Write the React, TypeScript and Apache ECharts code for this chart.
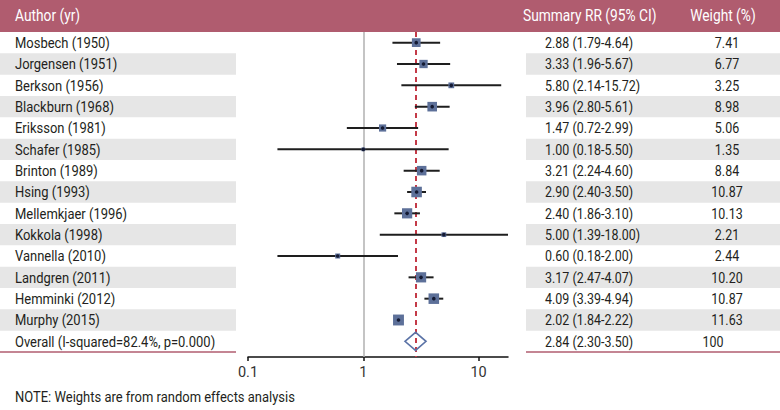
import React, { useEffect, useRef } from 'react';
import * as echarts from 'echarts';

// ---- data ----
const authors = [
  'Mosbech (1950)', 'Jorgensen (1951)', 'Berkson (1956)', 'Blackburn (1968)', 'Eriksson (1981)',
  'Schafer (1985)', 'Brinton (1989)', 'Hsing (1993)', 'Mellemkjaer (1996)', 'Kokkola (1998)',
  'Vannella (2010)', 'Landgren (2011)', 'Hemminki (2012)', 'Murphy (2015)',
];
const rr = [2.88, 3.33, 5.80, 3.96, 1.47, 1.00, 3.21, 2.90, 2.40, 5.00, 0.60, 3.17, 4.09, 2.02];
const lower = [1.79, 1.96, 2.14, 2.80, 0.72, 0.18, 2.24, 2.40, 1.86, 1.39, 0.18, 2.47, 3.39, 1.84];
const upper = [4.64, 5.67, 15.72, 5.61, 2.99, 5.50, 4.60, 3.50, 3.10, 18.00, 2.00, 4.07, 4.94, 2.22];
const weights = [7.41, 6.77, 3.25, 8.98, 5.06, 1.35, 8.84, 10.87, 10.13, 2.21, 2.44, 10.20, 10.87, 11.63];
const overallLabel = 'Overall (I-squared=82.4%, p=0.000)';
const overallRR = 2.84;
const overallLower = 2.30;
const overallUpper = 3.50;
const overallWeight = '100';
const headers = ['Author (yr)', 'Summary RR (95% CI)', 'Weight (%)'];
const xTicks = [0.1, 1, 10];
const note = 'NOTE: Weights are from random effects analysis';

const FONT = 'Roboto';
const TEXT = '#231f20';
const ROSE = '#b05c6f';
const STRIPE = '#e6e6e6';
const SX = 0.86;
const SX_NAME = 0.895;

const rowLabels = [...authors, overallLabel];
const summaryText = [
  ...rr.map((v, i) => `${v.toFixed(2)} (${lower[i].toFixed(2)}-${upper[i].toFixed(2)})`),
  `${overallRR.toFixed(2)} (${overallLower.toFixed(2)}-${overallUpper.toFixed(2)})`,
];
const weightText = [...weights.map((w) => w.toFixed(2)), overallWeight];
const nRows = rowLabels.length;

export default function App() {
  const ref = useRef<HTMLDivElement>(null);
  useEffect(() => {
    document.body.style.margin = '0';
    const chart = echarts.init(ref.current!, null, { renderer: 'svg' });
    const yMax = nRows - 0.5 + 5 / 21.33;
    const option: any = {
      animation: false,
      grid: [
        { left: 0, width: 780, top: 32, height: 325 },
        { left: 248, width: 260, top: 32, height: 325 },
      ],
      xAxis: [
        { gridIndex: 0, type: 'value', min: 0, max: 780, show: false },
        {
          gridIndex: 1,
          type: 'log',
          logBase: 10,
          min: 0.1,
          max: 18,
          position: 'bottom',
          axisLine: { show: true, onZero: false, lineStyle: { color: '#111', width: 1.5 } },
          axisTick: { show: true, length: 4, customValues: xTicks, lineStyle: { color: '#111', width: 1.5 } },
          axisLabel: {
            customValues: xTicks,
            formatter: (v: number) => String(v),
            fontSize: 14.5,
            fontFamily: FONT,
            color: '#333',
            margin: 8,
          },
          splitLine: { show: false },
        },
      ],
      yAxis: [
        { gridIndex: 0, type: 'value', inverse: true, min: -0.5, max: yMax, show: false },
        { gridIndex: 1, type: 'value', inverse: true, min: -0.5, max: yMax, show: false },
      ],
      graphic: [
        { type: 'rect', shape: { x: 0, y: 0, width: 780, height: 32 }, style: { fill: ROSE }, z: 10 },
        {
          type: 'text', x: 15, y: 16, scaleX: SX, z: 11,
          style: { text: headers[0], fill: '#fff', fontSize: 16, fontFamily: FONT, align: 'left', verticalAlign: 'middle' },
        },
        {
          type: 'text', x: 523, y: 16, scaleX: SX, z: 11,
          style: { text: headers[1], fill: '#fff', fontSize: 16, fontFamily: FONT, align: 'left', verticalAlign: 'middle' },
        },
        {
          type: 'text', x: 723, y: 16, scaleX: SX, z: 11,
          style: { text: headers[2], fill: '#fff', fontSize: 16, fontFamily: FONT, align: 'center', verticalAlign: 'middle' },
        },
        {
          type: 'text', x: 15, y: 397, scaleX: SX_NAME, z: 11,
          style: { text: note, fill: TEXT, fontSize: 14.5, fontFamily: FONT, align: 'left', verticalAlign: 'middle' },
        },
      ],
      series: [
        // table: stripes + text columns
        {
          type: 'custom',
          xAxisIndex: 0,
          yAxisIndex: 0,
          silent: true,
          z: 1,
          data: rowLabels.map((_, i) => [i, i]),
          renderItem: (params: any, api: any) => {
            const row = api.value(1);
            const y = api.coord([0, row])[1];
            const h = api.size([0, 1])[1];
            const xL0 = api.coord([0, row])[0];
            const xL1 = api.coord([236, row])[0];
            const xR0 = api.coord([526, row])[0];
            const xR1 = api.coord([780, row])[0];
            const children: any[] = [];
            if (row % 2 === 1) {
              children.push({ type: 'rect', shape: { x: xL0, y: y - h / 2, width: xL1 - xL0, height: h }, style: { fill: STRIPE } });
              children.push({ type: 'rect', shape: { x: xR0, y: y - h / 2, width: xR1 - xR0, height: h }, style: { fill: STRIPE } });
            }
            if (row === nRows - 1) {
              const yb = y + h / 2;
              children.push({ type: 'line', shape: { x1: xL0, y1: yb, x2: xL1, y2: yb }, style: { stroke: ROSE, lineWidth: 1.5 } });
              children.push({ type: 'line', shape: { x1: xR0, y1: yb, x2: xR1, y2: yb }, style: { stroke: ROSE, lineWidth: 1.5 } });
            }
            const txt = (t: string, x: number, align: string, sx: number) => ({
              type: 'text', x, y, scaleX: sx,
              style: { text: t, fill: TEXT, fontSize: 14.5, fontFamily: FONT, align, verticalAlign: 'middle' },
            });
            children.push(txt(rowLabels[row], api.coord([15, row])[0], 'left', SX_NAME));
            children.push(txt(summaryText[row], api.coord([545, row])[0], 'left', SX));
            const wx = row === nRows - 1 ? 713 : 727;
            children.push(txt(weightText[row], api.coord([wx, row])[0], 'center', SX));
            return { type: 'group', children };
          },
        },
        // reference lines
        {
          type: 'scatter',
          xAxisIndex: 1,
          yAxisIndex: 1,
          symbolSize: 0,
          silent: true,
          z: 2,
          data: rr.map((v, i) => [v, i]),
          markLine: {
            silent: true,
            symbol: 'none',
            label: { show: false },
            z: 2,
            data: [
              { xAxis: 1, lineStyle: { color: '#b0b0b0', width: 1.5, type: 'solid' } },
              { xAxis: overallRR, lineStyle: { color: '#c43a48', width: 2, type: [5, 4] } },
            ],
          },
        },
        // confidence intervals
        {
          type: 'custom',
          xAxisIndex: 1,
          yAxisIndex: 1,
          silent: true,
          z: 3,
          data: rr.map((_, i) => [lower[i], i, upper[i]]),
          renderItem: (params: any, api: any) => {
            const p1 = api.coord([api.value(0), api.value(1)]);
            const p2 = api.coord([api.value(2), api.value(1)]);
            return { type: 'line', shape: { x1: p1[0], y1: p1[1], x2: p2[0], y2: p2[1] }, style: { stroke: '#1e1e1e', lineWidth: 2 } };
          },
        },
        // weighted boxes
        {
          type: 'custom',
          xAxisIndex: 1,
          yAxisIndex: 1,
          silent: true,
          z: 4,
          data: rr.map((v, i) => [v, i, weights[i]]),
          renderItem: (params: any, api: any) => {
            const c = api.coord([api.value(0), api.value(1)]);
            const s = 3.2 * Math.sqrt(api.value(2));
            return {
              type: 'group',
              children: [
                { type: 'rect', shape: { x: c[0] - s / 2, y: c[1] - s / 2, width: s, height: s }, style: { fill: '#5d7099' } },
                { type: 'circle', shape: { cx: c[0], cy: c[1], r: 1.8 }, style: { fill: '#141a33' } },
              ],
            };
          },
        },
        // overall diamond
        {
          type: 'custom',
          xAxisIndex: 1,
          yAxisIndex: 1,
          silent: true,
          z: 5,
          data: [[overallRR, nRows - 1, overallLower, overallUpper]],
          renderItem: (params: any, api: any) => {
            const row = api.value(1);
            const c = api.coord([api.value(0), row]);
            const l = api.coord([api.value(2), row]);
            const r = api.coord([api.value(3), row]);
            const hh = 9;
            return {
              type: 'polygon',
              shape: { points: [[l[0], c[1]], [c[0], c[1] - hh], [r[0], c[1]], [c[0], c[1] + hh]] },
              style: { fill: 'none', stroke: '#5a72a6', lineWidth: 1.6 },
            };
          },
        },
      ],
    };
    chart.setOption(option);
    return () => chart.dispose();
  }, []);
  return <div ref={ref} style={{ width: 780, height: 410 }} />;
}
